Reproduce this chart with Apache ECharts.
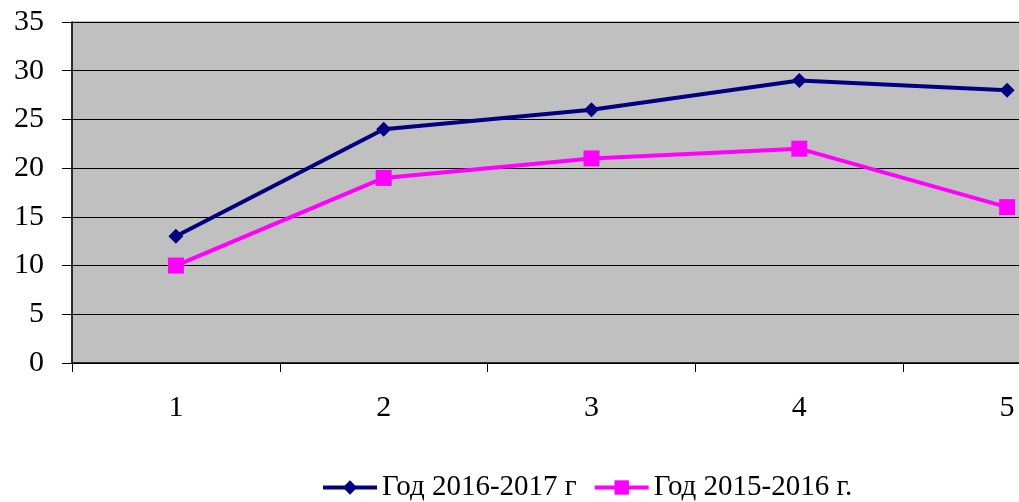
<!DOCTYPE html>
<html>
<head>
<meta charset="utf-8">
<script src="https://cdn.jsdelivr.net/npm/echarts@6/dist/echarts.min.js"></script>
<style>
  html, body { margin: 0; padding: 0; background: #fff; overflow: hidden; }
  /* the chart is wider than the window: the original is cropped on the right */
  #chart { width: 1111px; height: 502px; }
</style>
</head>
<body>
<div id="chart"></div>
<script>
  // data
  var categories = ['1', '2', '3', '4', '5'];
  var year1617 = [13, 24, 26, 29, 28];
  var year1516 = [10, 19, 21, 22, 16];
  var seriesNames = ['Год 2016-2017 г', 'Год 2015-2016 г.'];

  var chart = echarts.init(document.getElementById('chart'));
  var font = '"Liberation Serif", "DejaVu Serif", serif';

  var option = {
    animation: false,
    grid: {
      left: 72,
      top: 22,
      bottom: 139,
      right: 0,
      show: true,
      backgroundColor: '#C0C0C0',
      borderColor: '#808080',
      borderWidth: 1
    },
    legend: {
      data: seriesNames,
      left: 321,
      top: 473,
      padding: 0,
      itemWidth: 54,
      itemHeight: 18,
      itemGap: 16,
      lineStyle: { width: 4 },
      textStyle: { fontFamily: font, fontSize: 29, color: '#000' }
    },
    xAxis: {
      type: 'category',
      data: categories,
      boundaryGap: true,
      axisLine: { lineStyle: { color: '#000', width: 1.5 } },
      axisTick: { show: true, length: 9, lineStyle: { color: '#000' } },
      axisLabel: { margin: 30, fontFamily: font, fontSize: 30, color: '#000' },
      splitLine: { show: false }
    },
    yAxis: {
      type: 'value',
      min: 0,
      max: 35,
      interval: 5,
      axisLine: { show: true, lineStyle: { color: '#000', width: 1.5 } },
      axisTick: { show: true, length: 10, lineStyle: { color: '#000' } },
      axisLabel: { margin: 28, fontFamily: font, fontSize: 30, color: '#000' },
      splitLine: { lineStyle: { color: '#000', width: 1.2 } }
    },
    series: [
      {
        name: seriesNames[0],
        type: 'line',
        data: year1617,
        symbol: 'diamond',
        symbolSize: 15,
        itemStyle: { color: '#000080' },
        lineStyle: { color: '#000080', width: 4 }
      },
      {
        name: seriesNames[1],
        type: 'line',
        data: year1516,
        symbol: 'rect',
        symbolSize: 16,
        itemStyle: { color: '#FF00FF' },
        lineStyle: { color: '#FF00FF', width: 4 }
      }
    ]
  };
  chart.setOption(option);
</script>
</body>
</html>
